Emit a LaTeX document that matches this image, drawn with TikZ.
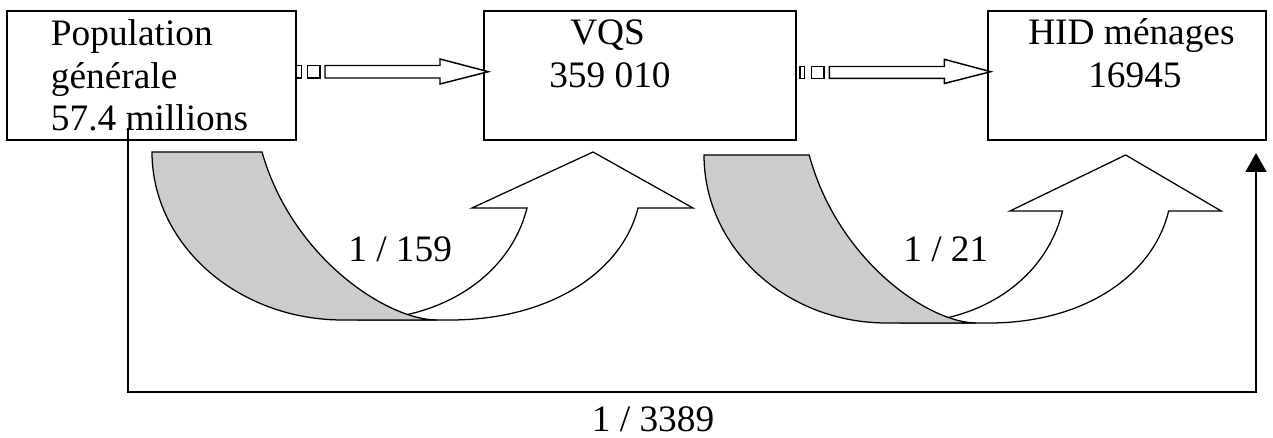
\documentclass[tikz,border=0pt]{standalone}
\usepackage{fontspec}
\setmainfont{Liberation Serif}
\usetikzlibrary{arrows.meta}
\definecolor{bandgray}{RGB}{204,204,204}

\tikzset{
  box/.style={draw, line width=1.5pt, inner sep=0pt, minimum height=96.75pt},
  lbl/.style={anchor=base west, inner sep=0pt},
  blockarrow/.style={draw, fill=white, line width=1.1pt, line join=miter},
  curve/.style={draw, line width=0.95pt, line join=miter},
  link/.style={draw, line width=1.2pt, -{Triangle[length=14.25pt,width=15.75pt]}},
  % curved "U-turn" arrow: shaded back band plus white up-pointing arrow
  uturn/.pic={
    \path[curve, fill=white] (486,56) -- (541,56) -- (441,0) -- (320,56) -- (375,56)
      .. controls (359,120) and (295,168) .. (205,168) -- (298,168)
      .. controls (398,168) and (470,120) .. (486,56) -- cycle;
    \path[curve, fill=bandgray] (0,0) -- (110,0)
      .. controls (140,105.6) and (235,168) .. (285,168) -- (191,168)
      .. controls (85.6,168) and (0,92.8) .. (0,0) -- cycle;
  }
}

\begin{document}
\begin{tikzpicture}[x=0.75pt, y=-0.75pt, font=\fontsize{28pt}{32pt}\selectfont]
  \useasboundingbox (0,0) rectangle (1273,438);

  % the three population boxes
  \node[box, minimum width=216.75pt] (pop) at (151.5,75.5) {};
  \node[box, minimum width=234pt]    (vqs) at (640,75.5) {};
  \node[box, minimum width=208.5pt]  (hid) at (1127,75.5) {};

  \node[lbl] (pop-a) at (50.7,45.6) {Population};
  \node[lbl] (pop-b) at (50.7,88.3) {générale};
  \node[lbl] (pop-c) at (50.7,131) {57.4 millions};
  \node[lbl] (vqs-a) at (570,45) {VQS};
  \node[lbl] (vqs-b) at (549,88) {359 010};
  \node[lbl] (hid-a) at (1028,45) {HID ménages};
  \node[lbl] (hid-b) at (1088,88) {16945};

  % striped block arrows between the boxes
  \path[blockarrow] (296.7,65.5) rectangle (301.7,78);
  \path[blockarrow] (307.3,65.5) rectangle (320,78);
  \path[blockarrow] (325,65.5) -- (440,65.5) -- (440,59) -- (488.3,71.7)
    -- (440,84) -- (440,78) -- (325,78) -- cycle;

  \path[blockarrow] (800,66.5) rectangle (804.3,78.3);
  \path[blockarrow] (811.7,66.5) rectangle (824,78.3);
  \path[blockarrow] (829.3,66.5) -- (944.3,66.5) -- (944.3,59.3) -- (990.7,71.7)
    -- (944.3,83.5) -- (944.3,78.3) -- (829.3,78.3) -- cycle;

  % sampling-rate U-turn arrows
  \pic (turn1) at (152,152) {uturn};
  \pic[xscale=0.956] (turn2) at (704,155) {uturn};

  \node[lbl] (rate1) at (348,261.7) {1 / 159};
  \node[lbl] (rate2) at (903,261.7) {1 / 21};

  % overall rate bracket
  \coordinate (src) at (128,128);
  \coordinate (low) at (128,392);
  \coordinate (dst) at (1256,153);
  \draw[link] (src) -- (low) -| (dst);
  \node[lbl, anchor=base, text depth=0pt] (rate3) at (653,431) {1 / 3389};
\end{tikzpicture}
\end{document}
